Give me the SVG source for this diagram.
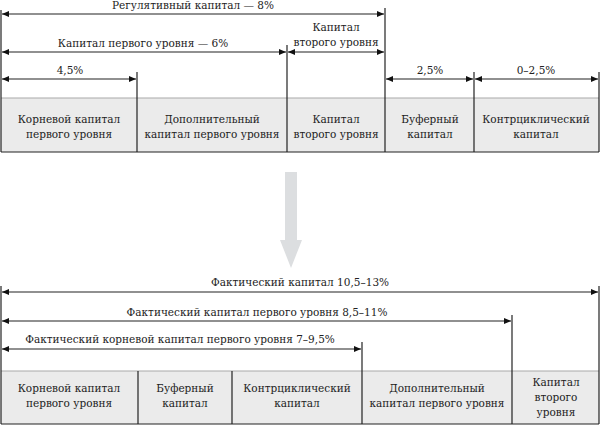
<svg xmlns="http://www.w3.org/2000/svg" width="601" height="426" viewBox="0 0 601 426">
<style>
text{font-family:"DejaVu Serif","Liberation Serif",serif;font-size:10.5px;fill:#222;text-anchor:middle}
.box{fill:#ebebeb}
.top{stroke:#a9a9a9;stroke-width:1.2}
.bot{stroke:#222;stroke-width:1.2}
.v{stroke:#222;stroke-width:1.2}
.a{stroke:#222;stroke-width:1.1;fill:none}
.both{marker-start:url(#ah);marker-end:url(#ah)}
.end{marker-end:url(#ah)}
</style>
<defs>
<marker id="ah" markerUnits="userSpaceOnUse" markerWidth="8" markerHeight="7" refX="7" refY="3" orient="auto-start-reverse">
<path d="M0,0 L7,3 L0,6 z" fill="#111"/>
</marker>
</defs>
<rect width="601" height="426" fill="#fff"/>

<!-- top row boxes -->
<rect class="box" x="1" y="98" width="598" height="54"/>
<line class="top" x1="1" y1="98" x2="599" y2="98"/>
<line class="bot" x1="1" y1="152" x2="599" y2="152"/>
<g id="top-core"><text x="69" y="123">Корневой капитал</text><text x="69" y="138">первого уровня</text></g>
<g id="top-add"><text x="212" y="123">Дополнительный</text><text x="212" y="138">капитал первого уровня</text></g>
<g id="top-tier2"><text x="336" y="123">Капитал</text><text x="336" y="138">второго уровня</text></g>
<g id="top-buffer"><text x="430" y="123">Буферный</text><text x="430" y="138">капитал</text></g>
<g id="top-counter"><text x="536" y="123">Контрциклический</text><text x="536" y="138">капитал</text></g>

<!-- bottom row boxes -->
<rect class="box" x="1" y="371" width="598" height="53"/>
<line class="top" x1="1" y1="371" x2="599" y2="371"/>
<line class="bot" x1="1" y1="424" x2="599" y2="424"/>
<g id="bot-core"><text x="69" y="392">Корневой капитал</text><text x="69" y="407">первого уровня</text></g>
<g id="bot-buffer"><text x="185" y="392">Буферный</text><text x="185" y="407">капитал</text></g>
<g id="bot-counter"><text x="297" y="392">Контрциклический</text><text x="297" y="407">капитал</text></g>
<g id="bot-add"><text x="437" y="392">Дополнительный</text><text x="437" y="407">капитал первого уровня</text></g>
<g id="bot-tier2"><text x="556" y="386">Капитал</text><text x="556" y="401">второго</text><text x="556" y="416">уровня</text></g>

<g id="connectors">
<!-- top verticals -->
<line class="v" x1="1" y1="10" x2="1" y2="152"/>
<line class="v" x1="137" y1="72" x2="137" y2="152"/>
<line class="v" x1="287" y1="45" x2="287" y2="152"/>
<line class="v" x1="385" y1="8" x2="385" y2="152"/>
<line class="v" x1="474" y1="72" x2="474" y2="152"/>
<line class="v" x1="599" y1="72" x2="599" y2="152"/>
<!-- top arrows -->
<line class="a both" x1="2" y1="14" x2="384" y2="14"/>
<line class="a both" x1="2" y1="52" x2="286" y2="52"/>
<line class="a both" x1="288" y1="52" x2="384" y2="52"/>
<line class="a both" x1="2" y1="79" x2="136" y2="79"/>
<line class="a both" x1="386" y1="79" x2="473" y2="79"/>
<line class="a both" x1="475" y1="79" x2="598" y2="79"/>
<!-- big gray arrow -->
<path d="M285,172 H297 V240 H302 L291,268 L280,240 H285 Z" fill="#dcdee0"/>
<!-- bottom verticals -->
<line class="v" x1="1" y1="286" x2="1" y2="424"/>
<line class="v" x1="599" y1="286" x2="599" y2="424"/>
<line class="v" x1="512" y1="315" x2="512" y2="424"/>
<line class="v" x1="362" y1="342" x2="362" y2="424"/>
<line class="v" x1="138" y1="371" x2="138" y2="424"/>
<line class="v" x1="232" y1="371" x2="232" y2="424"/>
<!-- bottom arrows -->
<line class="a both" x1="2" y1="292" x2="598" y2="292"/>
<line class="a both" x1="2" y1="321" x2="511" y2="321"/>
<line class="a both" x1="2" y1="349" x2="361" y2="349"/>
</g>

<g id="labels">
<text x="193" y="9">Регулятивный капитал — 8%</text>
<text x="143" y="47">Капитал первого уровня — 6%</text>
<text x="336" y="31">Капитал</text>
<text x="336" y="46">второго уровня</text>
<text x="70" y="74">4,5%</text>
<text x="430" y="74">2,5%</text>
<text x="536" y="74">0–2,5%</text>
<text x="300" y="286">Фактический капитал 10,5–13%</text>
<text x="257" y="316">Фактический капитал первого уровня 8,5–11%</text>
<text x="180" y="343">Фактический корневой капитал первого уровня 7–9,5%</text>
</g>
</svg>
